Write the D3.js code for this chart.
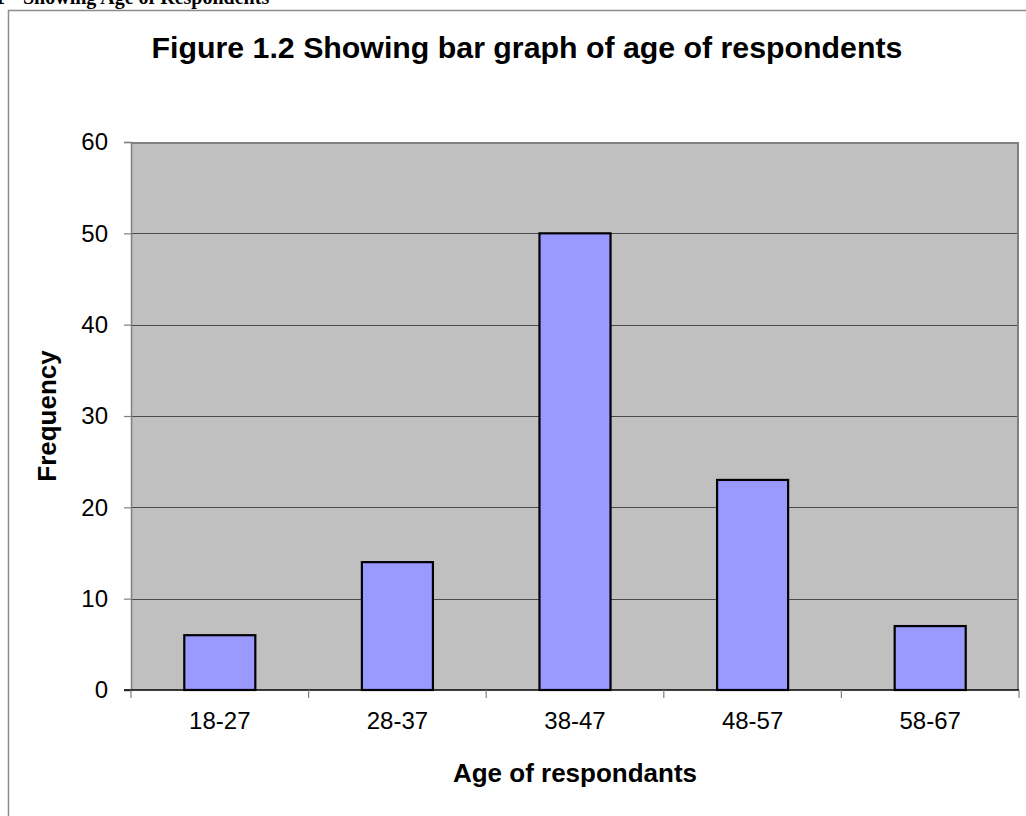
<!DOCTYPE html>
<html>
<head>
<meta charset="utf-8">
<script src="https://cdn.jsdelivr.net/npm/d3@7"></script>
<style>
  html, body { margin: 0; padding: 0; background: #fff; overflow: hidden; }
  svg { display: block; }
  text { font-family: "Liberation Sans", Arial, sans-serif; }
</style>
</head>
<body>
<script>
// Age groups of respondents and how many fall in each
const ageGroups = ["18-27", "28-37", "38-47", "48-57", "58-67"];
const frequencies = [6, 14, 50, 23, 7];
const yTicks = [0, 10, 20, 30, 40, 50, 60];

const W = 1026, H = 816;
const plot = { left: 131, top: 142, right: 1019, bottom: 690 };

const svg = d3.select("body").append("svg")
  .attr("width", W).attr("height", H);

// Caption line of the surrounding document, clipped by the page edge
const caption = svg.append("text")
  .attr("y", 4)
  .style("font-family", "'Liberation Serif', 'Times New Roman', serif")
  .style("font-weight", "bold")
  .style("font-size", "20px");
caption.append("tspan").attr("x", -5).text("1");
caption.append("tspan").attr("x", 23).text("Showing Age of Respondents");

// Chart frame
svg.append("rect")
  .attr("x", 8.5).attr("y", 10.5)
  .attr("width", 1040).attr("height", 830)
  .attr("fill", "#fff")
  .attr("stroke", "#8c8c8c").attr("stroke-width", 1.5);

// Title
svg.append("text")
  .attr("x", 527).attr("y", 58)
  .attr("text-anchor", "middle")
  .style("font-weight", "bold").style("font-size", "30.3px")
  .text("Figure 1.2 Showing bar graph of age of respondents");

const x = d3.scaleBand()
  .domain(ageGroups)
  .range([plot.left, plot.right])
  .paddingInner(0.6).paddingOuter(0.3);

const xEdge = d3.scaleLinear()
  .domain([0, ageGroups.length])
  .range([plot.left, plot.right]);

const y = d3.scaleLinear()
  .domain([0, 60])
  .range([plot.bottom, plot.top]);

// Plot background
svg.append("rect")
  .attr("x", plot.left).attr("y", plot.top)
  .attr("width", plot.right - plot.left).attr("height", plot.bottom - plot.top)
  .attr("fill", "#c0c0c0");

// Horizontal gridlines
svg.append("g")
  .selectAll("line")
  .data(yTicks.filter(t => t > 0 && t < 60))
  .join("line")
  .attr("x1", plot.left).attr("x2", plot.right)
  .attr("y1", d => Math.round(y(d)) + 0.5).attr("y2", d => Math.round(y(d)) + 0.5)
  .attr("stroke", "#4a4a4a").attr("stroke-width", 1.2);

// Plot border (top and right)
svg.append("path")
  .attr("d", `M${plot.left},${plot.top + 1}H${plot.right - 1}V${plot.bottom}`)
  .attr("fill", "none")
  .attr("stroke", "#808080").attr("stroke-width", 2);

// Bars
svg.append("g")
  .selectAll("rect")
  .data(frequencies)
  .join("rect")
  .attr("x", (d, i) => x(ageGroups[i]))
  .attr("y", d => y(d))
  .attr("width", x.bandwidth())
  .attr("height", d => y(0) - y(d))
  .attr("fill", "#9999ff")
  .attr("stroke", "#000").attr("stroke-width", 2.2);

// Y axis
const yAxis = svg.append("g")
  .attr("transform", `translate(${plot.left},0)`)
  .call(d3.axisLeft(y).tickValues(yTicks).tickSize(7).tickPadding(16));
yAxis.select(".domain").attr("stroke", "#808080").attr("stroke-width", 1.5);
yAxis.selectAll(".tick line").attr("stroke", "#808080").attr("stroke-width", 1.2);
yAxis.selectAll(".tick text")
  .attr("fill", "#000")
  .style("font-family", "'Liberation Sans', Arial, sans-serif")
  .style("font-size", "24px");

// X axis baseline
svg.append("line")
  .attr("x1", plot.left - 7).attr("x2", plot.right)
  .attr("y1", plot.bottom).attr("y2", plot.bottom)
  .attr("stroke", "#000").attr("stroke-width", 1.5);

// Category boundary ticks
svg.append("g")
  .selectAll("line")
  .data(d3.range(ageGroups.length + 1))
  .join("line")
  .attr("x1", d => xEdge(d)).attr("x2", d => xEdge(d))
  .attr("y1", plot.bottom).attr("y2", plot.bottom + 8)
  .attr("stroke", "#808080").attr("stroke-width", 1.2);

// Category labels
svg.append("g")
  .selectAll("text")
  .data(ageGroups)
  .join("text")
  .attr("x", d => x(d) + x.bandwidth() / 2)
  .attr("y", 729)
  .attr("text-anchor", "middle")
  .style("font-size", "24px")
  .text(d => d);

// Axis titles
svg.append("text")
  .attr("x", (plot.left + plot.right) / 2).attr("y", 782)
  .attr("text-anchor", "middle")
  .style("font-weight", "bold").style("font-size", "26px")
  .text("Age of respondants");

svg.append("text")
  .attr("transform", `translate(56,${(plot.top + plot.bottom) / 2}) rotate(-90)`)
  .attr("text-anchor", "middle")
  .style("font-weight", "bold").style("font-size", "26px")
  .text("Frequency");
</script>
</body>
</html>
